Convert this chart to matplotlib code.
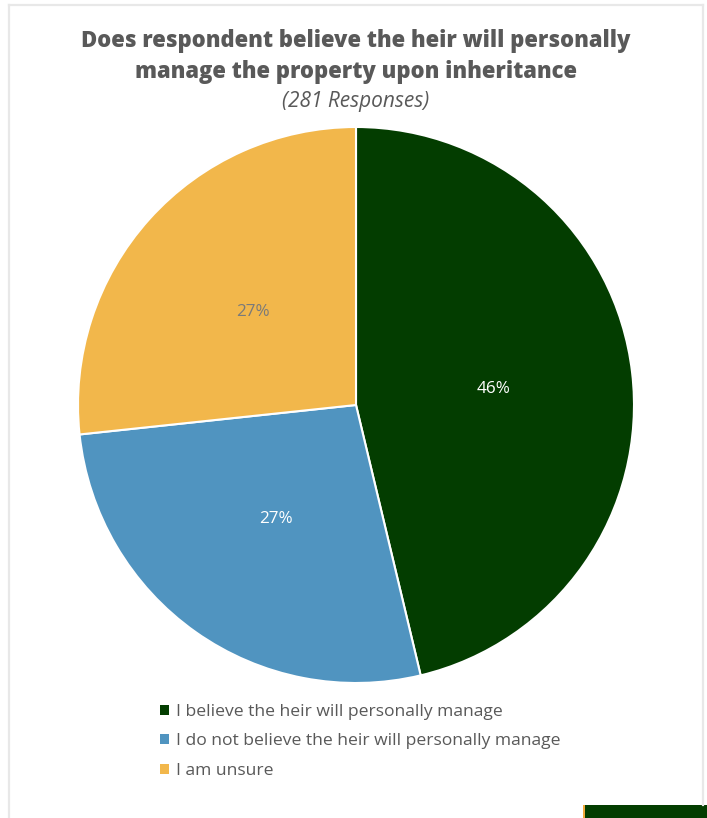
import matplotlib
matplotlib.use("Agg")
import matplotlib.pyplot as plt
from matplotlib.patches import Rectangle
from matplotlib.lines import Line2D

categories = [
    "I believe the heir will personally manage",
    "I do not believe the heir will personally manage",
    "I am unsure",
]
counts = [130, 76, 75]
colors = ["#033d00", "#5094c0", "#f2b74b"]
label_colors = ["white", "white", "#7a7a7a"]

title = "Does respondent believe the heir will personally\nmanage the property upon inheritance"
subtitle = "(281 Responses)"

W, H, DPI = 707, 818, 100
fig = plt.figure(figsize=(W / DPI, H / DPI), dpi=DPI)
fig.patch.set_facecolor("white")

plt.rcParams["font.family"] = ["Open Sans", "DejaVu Sans"]

# page frame
frame_c = "#e8e8e8"
fig.add_artist(Line2D([8.5 / W, 8.5 / W], [0, 1 - 5 / H], transform=fig.transFigure, color=frame_c, lw=1.6))
fig.add_artist(Line2D([8.5 / W, 702.5 / W], [1 - 5 / H, 1 - 5 / H], transform=fig.transFigure, color=frame_c, lw=1.6))
fig.add_artist(Line2D([702.5 / W, 702.5 / W], [1 - 5 / H, 13 / H], transform=fig.transFigure, color=frame_c, lw=1.6))

# footer tab
fig.add_artist(Rectangle((583 / W, 0), 2.5 / W, 13 / H, transform=fig.transFigure, color="#f2a93b", lw=0))
fig.add_artist(Rectangle((585 / W, 0), (W - 585) / W, 13 / H, transform=fig.transFigure, color="#033d00", lw=0))

cx, cy, r = 356, 405, 278
ax = fig.add_axes([(cx - r) / W, (H - cy - r) / H, 2 * r / W, 2 * r / H])
wedges, texts, autotexts = ax.pie(
    counts,
    colors=colors,
    startangle=90,
    counterclock=False,
    autopct="%1.0f%%",
    pctdistance=0.5,
    radius=1,
    wedgeprops=dict(edgecolor="white", linewidth=1.5),
    textprops=dict(fontsize=12.3),
)
for t, c in zip(autotexts, label_colors):
    t.set_color(c)
ax.set_xlim(-1, 1)
ax.set_ylim(-1, 1)
ax.set_aspect("equal")
ax.axis("off")

fig.text(356 / W, 1 - 56.5 / H, title, ha="center", va="center", fontsize=15.8,
         fontweight="heavy", color="#595959", linespacing=1.4)
fig.text(356 / W, 1 - 101 / H, subtitle, ha="center", va="center", fontsize=15,
         style="italic", color="#595959")

leg = fig.legend(wedges, categories, loc="upper left",
                 bbox_to_anchor=(160 / W, 1 - 704 / H), frameon=False,
                 fontsize=12.6, handlelength=0.5, handleheight=0.5,
                 handletextpad=0.42, labelspacing=0.77, borderpad=0, borderaxespad=0)
for t in leg.get_texts():
    t.set_color("#595959")
for h in leg.legend_handles:
    h.set_edgecolor("none")

fig.savefig("out.png", dpi=DPI, facecolor="white")
